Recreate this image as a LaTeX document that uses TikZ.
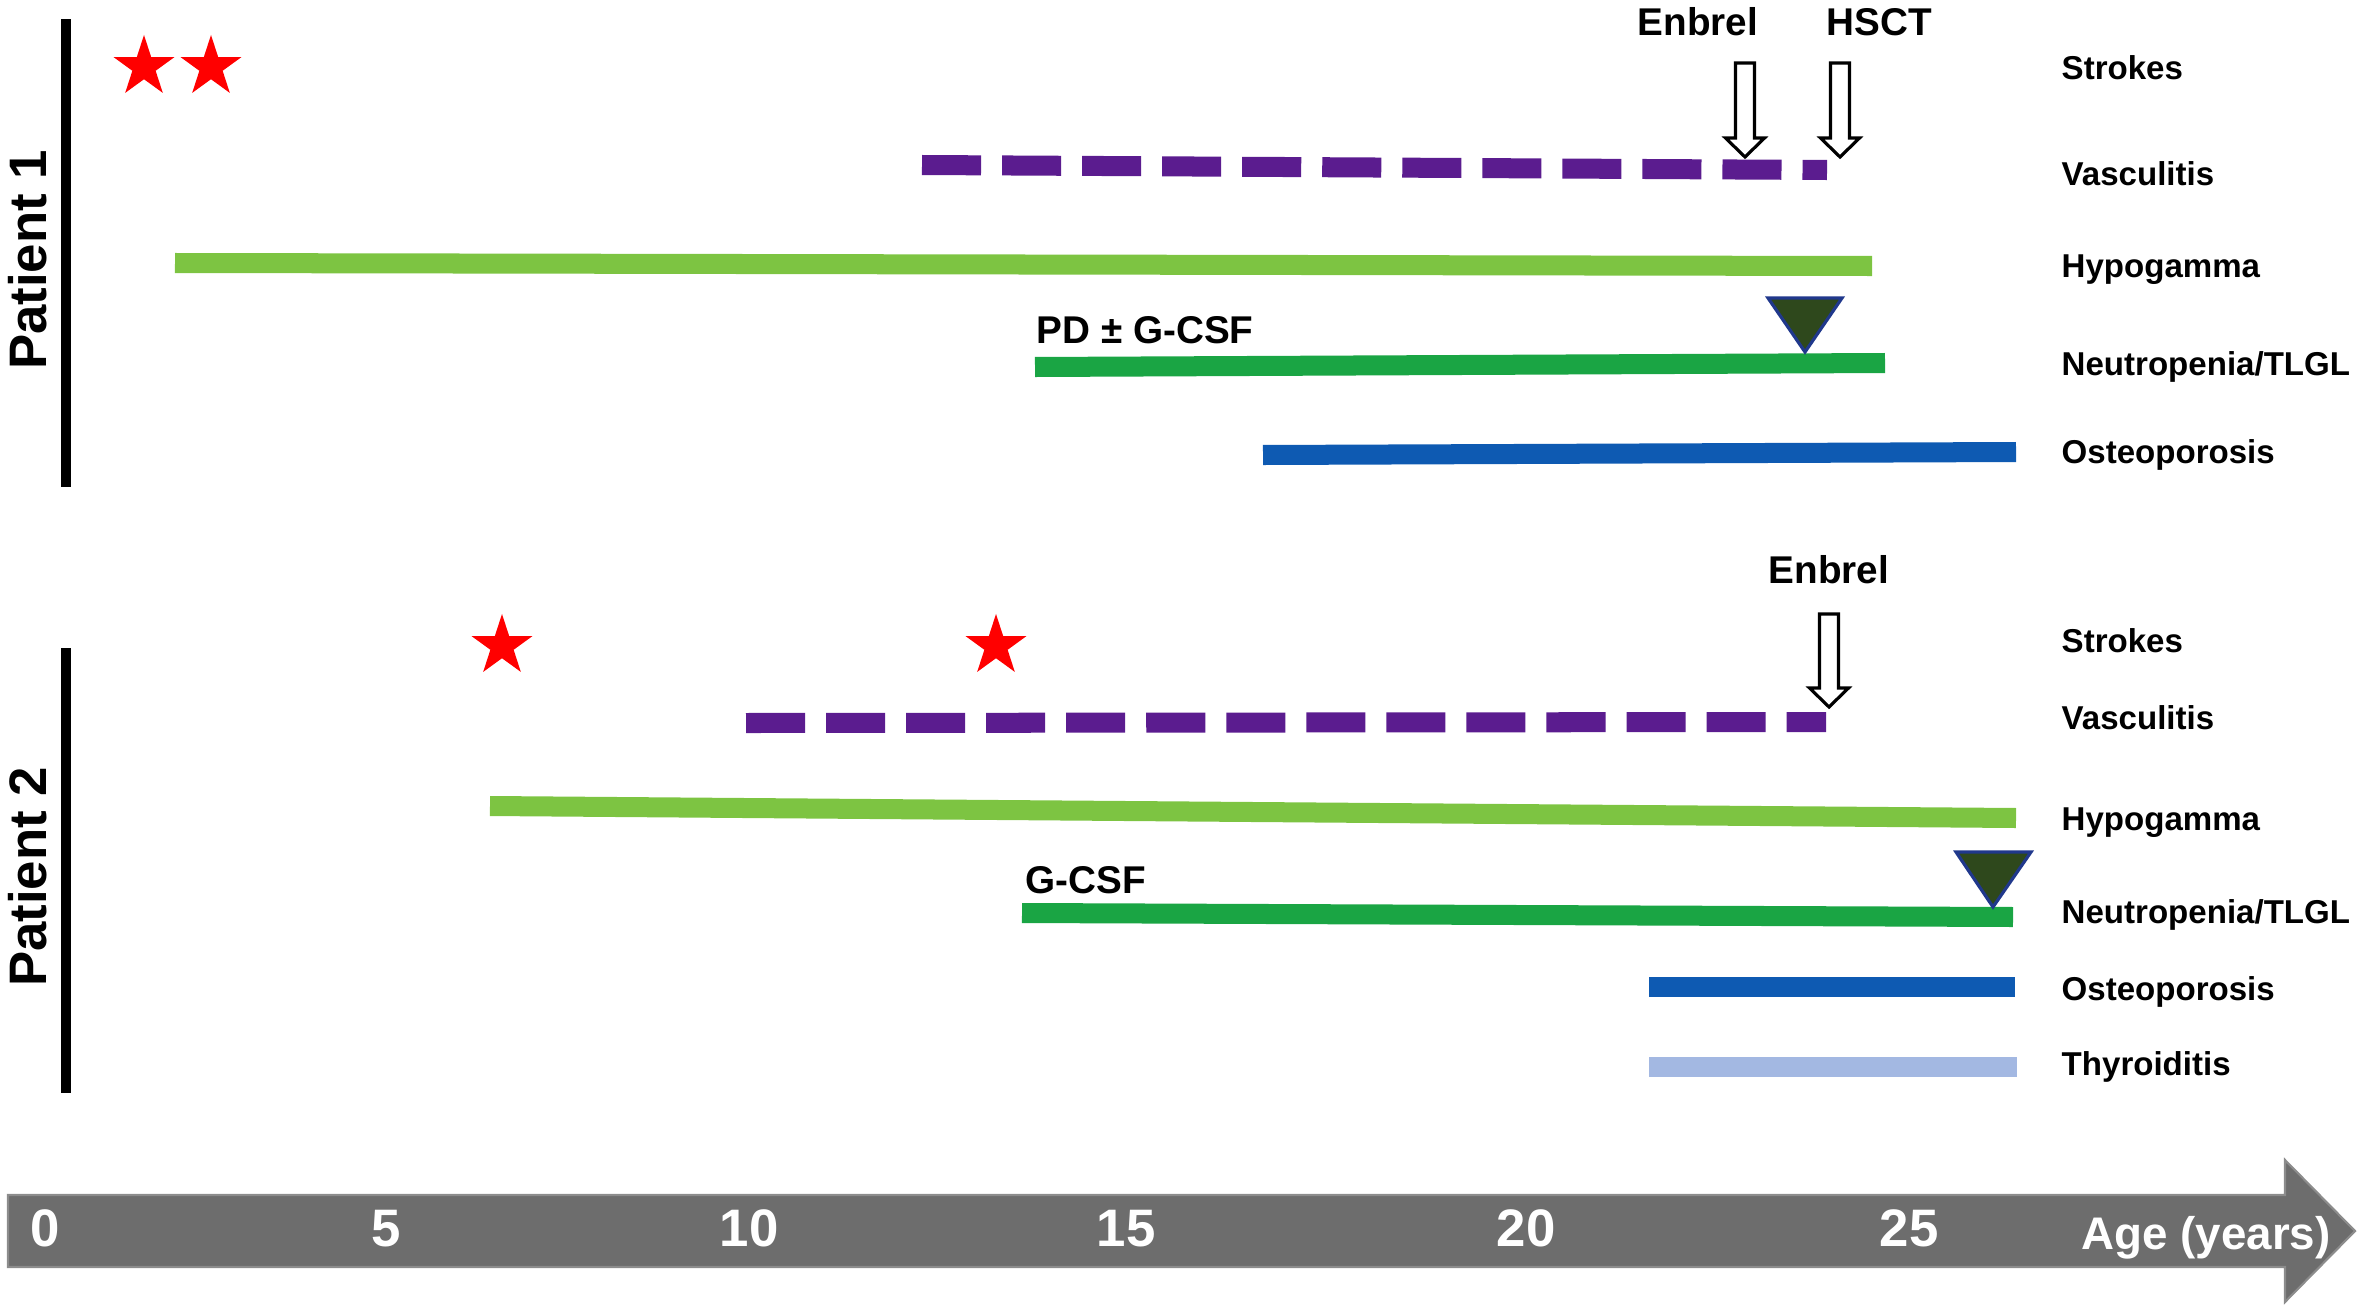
\documentclass[tikz,border=0pt]{standalone}
\usepackage{fontspec}
\setmainfont{Liberation Sans}
\usetikzlibrary{shapes.geometric}
\definecolor{vasc}{RGB}{91, 28, 143}
\definecolor{hypo}{RGB}{125, 196, 66}
\definecolor{neut}{RGB}{26, 165, 68}
\definecolor{osteo}{RGB}{14, 90, 178}
\definecolor{thyro}{RGB}{163, 184, 226}
\definecolor{tri}{RGB}{46, 72, 28}
\definecolor{triedge}{RGB}{32, 56, 140}
\definecolor{axisgray}{RGB}{109, 109, 109}
\definecolor{axisedge}{RGB}{140, 140, 140}
\definecolor{strk}{RGB}{255, 0, 0}

\begin{document}
\begin{tikzpicture}[x=0.01cm, y=-0.01cm,
        bar/.style={line width=0.2cm},
        vdash/.style={vasc, line width=0.2cm, dash pattern=on 0.59cm off 0.21cm},
        lbl/.style={anchor=base west, inner sep=0pt, font=\fontsize{9.4}{11}\selectfont\bfseries},
        drug/.style={anchor=base, inner sep=0pt, font=\fontsize{11}{13}\selectfont\bfseries},
        tick/.style={white, anchor=base, inner sep=0pt, font=\fontsize{15}{18}\selectfont\bfseries},
        patient/.style={rotate=90, inner sep=0pt, font=\fontsize{15}{18}\selectfont\bfseries},
        strokestar/.style={star, star points=5, star point ratio=2.618, fill=strk, minimum size=0.64cm, inner sep=0pt},
        marker/.style={fill=tri, draw=triedge, line width=0.9pt},
        treat/.style={fill=white, draw=black, line width=0.9pt}]
        \useasboundingbox (0, 0) rectangle (2363, 1309);

        \draw[black, line width=0.1cm] (66, 19)--(66, 487);
        \draw[black, line width=0.1cm] (66, 648)--(66, 1093);
        \node[patient](p1) at (28, 260) {Patient 1};
        \node[patient](p2) at (28, 877) {Patient 2};

        \node[strokestar](s1a) at (144, 67) {};
        \node[strokestar](s1b) at (211, 67) {};
        \draw[vdash] (922, 165)--(1827, 170);
        \draw[bar, hypo] (175, 263)--(1872, 266);
        \draw[bar, neut] (1035, 367)--(1885, 363);
        \draw[bar, osteo] (1263, 455)--(2016, 452);
        \filldraw[marker] (1768, 298)--(1842, 298)--(1805, 352)--cycle;
        \node[anchor=base west, inner sep=0pt, font=\fontsize{11}{13}\selectfont\bfseries](pd) at (1036, 343) {PD ± G-CSF};
        \draw[treat] (1735.5, 63)--(1754.5, 63)--(1754.5, 138)--(1764.5, 138)--(1745, 157)--(1725.5, 138)--(1735.5, 138)--cycle;
        \draw[treat] (1830.5, 63)--(1849.5, 63)--(1849.5, 138)--(1859.5, 138)--(1840, 157)--(1820.5, 138)--(1830.5, 138)--cycle;
        \node[drug](enb1) at (1698, 35) {Enbrel};
        \node[drug](hsct) at (1879, 35) {HSCT};

        \node[lbl](str1) at (2061, 80) {Strokes};
        \node[lbl](vas1) at (2061, 185) {Vasculitis};
        \node[lbl](hyp1) at (2061, 277) {Hypogamma};
        \node[lbl](neu1) at (2061, 375) {Neutropenia/TLGL};
        \node[lbl](ost1) at (2061, 463) {Osteoporosis};

        \node[strokestar](s2a) at (502, 646) {};
        \node[strokestar](s2b) at (996, 646) {};
        \draw[vdash] (746, 723)--(1826, 722);
        \draw[bar, hypo] (490, 806)--(2016, 818);
        \draw[bar, neut] (1022, 913)--(2013, 917);
        \draw[bar, osteo] (1649, 987)--(2015, 987);
        \draw[bar, thyro] (1649, 1067)--(2017, 1067);
        \filldraw[marker] (1956, 852)--(2031, 852)--(1993, 907)--cycle;
        \node[anchor=base west, inner sep=0pt, font=\fontsize{11}{13}\selectfont\bfseries](gcsf) at (1025, 893) {G-CSF};
        \draw[treat] (1819.5, 614)--(1838.5, 614)--(1838.5, 688)--(1848.5, 688)--(1829, 707)--(1809.5, 688)--(1819.5, 688)--cycle;
        \node[drug](enb2) at (1829, 583) {Enbrel};

        \node[lbl](str2) at (2061, 652) {Strokes};
        \node[lbl](vas2) at (2061, 729) {Vasculitis};
        \node[lbl](hyp2) at (2061, 830) {Hypogamma};
        \node[lbl](neu2) at (2061, 923) {Neutropenia/TLGL};
        \node[lbl](ost2) at (2061, 1000) {Osteoporosis};
        \node[lbl](thy2) at (2061, 1075) {Thyroiditis};

        \filldraw[fill=axisgray, draw=axisedge, line width=0.6pt] (8, 1195)--(2285, 1195)--(2285, 1160)--(2355, 1231)--(2285, 1302)--(2285, 1267)--(8, 1267)--cycle;
        \node[tick](a0) at (45, 1246) {0};
        \node[tick](a5) at (386, 1246) {5};
        \node[tick](a10) at (749, 1246) {10};
        \node[tick](a15) at (1126, 1246) {15};
        \node[tick](a20) at (1526, 1246) {20};
        \node[tick](a25) at (1909, 1246) {25};
        \node[white, anchor=base, inner sep=0pt, font=\fontsize{13}{16}\selectfont\bfseries](age) at (2206, 1249) {Age (years)};
    \end{tikzpicture}
\end{document}
